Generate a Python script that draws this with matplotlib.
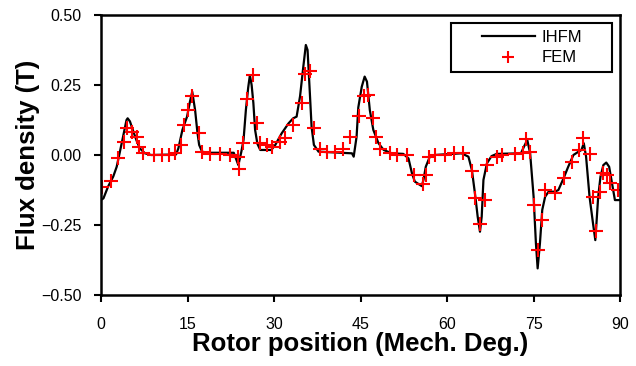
import matplotlib
matplotlib.use("Agg")
import matplotlib.pyplot as plt
from matplotlib.patches import Rectangle

# IHFM air-gap flux density (rotor position in mech. deg, B in T)
ihfm_deg = [0.0, 0.4, 1.2, 2.1, 2.7, 3.2, 3.8, 4.4, 4.6, 5.0, 5.5, 6.1, 6.7, 7.6,
            8.7, 13.0, 13.4, 14.1, 14.9, 15.4, 15.8, 16.3, 16.7, 17.0, 17.5,
            18.5, 23.0, 23.8, 24.3, 24.7, 25.1, 25.5, 25.8, 26.1, 26.4, 26.7,
            27.1, 27.6, 29.5, 30.2, 31.3, 32.5, 33.3, 33.9, 34.5, 35.0, 35.5,
            35.8, 36.2, 36.5, 36.9, 37.7, 43.5, 43.8, 44.3, 44.6, 45.2, 45.7,
            46.1, 46.6, 47.2, 48.1, 49.0, 50.4, 52.4, 53.3, 53.9, 54.4, 55.6,
            55.9, 56.3, 57.0, 57.8, 62.5, 63.7, 64.3, 64.9, 65.3, 65.7, 66.0,
            66.3, 66.9, 67.7, 68.6, 72.8, 73.2, 73.9, 74.4, 75.0, 75.4, 75.7,
            76.1, 76.5, 77.0, 77.6, 78.7, 79.3, 80.2, 81.0, 81.9, 82.8, 83.3,
            83.7, 84.1, 84.7, 85.3, 85.7, 85.9, 86.2, 86.6, 87.1, 87.6, 88.1,
            88.5, 89.1, 89.8]
ihfm_val = [-0.160, -0.155, -0.113, -0.077, -0.042, 0.006, 0.065, 0.125, 0.131,
            0.120, 0.089, 0.054, 0.024, 0.006, 0.000, 0.002, 0.024, 0.090,
            0.137, 0.190, 0.226, 0.160, 0.080, 0.036, 0.012, 0.008, 0.008,
            -0.036, 0.010, 0.054, 0.160, 0.240, 0.285, 0.250, 0.186, 0.090,
            0.040, 0.018, 0.018, 0.036, 0.077, 0.113, 0.131, 0.137, 0.210,
            0.304, 0.393, 0.375, 0.220, 0.100, 0.036, 0.012, 0.006, -0.006,
            0.065, 0.170, 0.244, 0.280, 0.262, 0.160, 0.090, 0.042, 0.018,
            0.006, 0.004, -0.012, -0.065, -0.095, -0.111, -0.089, -0.042,
            -0.006, 0.000, 0.006, -0.006, -0.054, -0.149, -0.220, -0.274,
            -0.220, -0.089, -0.030, -0.004, 0.004, 0.006, 0.024, 0.054, 0.006,
            -0.149, -0.315, -0.405, -0.315, -0.196, -0.149, -0.131, -0.131,
            -0.125, -0.083, -0.042, 0.000, 0.012, 0.018, 0.042, -0.006, -0.149,
            -0.244, -0.304, -0.244, -0.149, -0.077, -0.036, -0.027, -0.042,
            -0.089, -0.161, -0.161]

# FEM samples
fem_deg = [0.1, 1.7, 3.0, 3.9, 4.5, 5.3, 6.2, 6.5, 7.3, 9.1, 10.5, 11.7, 12.8,
           13.9, 14.3, 15.1, 15.8, 17.0, 17.5, 18.9, 20.6, 22.4, 23.8, 23.9,
           24.6, 25.3, 26.4, 27.0, 27.6, 28.7, 29.6, 31.0, 31.9, 33.3, 34.9,
           35.4, 36.3, 36.9, 37.9, 39.1, 40.6, 41.9, 43.2, 44.8, 45.6, 46.2,
           47.2, 47.7, 48.4, 50.1, 51.3, 53.0, 54.3, 55.8, 56.3, 56.8, 57.9,
           59.6, 61.2, 62.8, 64.3, 64.9, 65.7, 66.6, 67.0, 68.6, 69.5, 71.8,
           73.2, 73.7, 74.4, 75.1, 75.8, 76.5, 77.0, 78.7, 80.2, 81.6, 82.8,
           83.6, 84.7, 85.3, 85.8, 86.5, 87.1, 87.8, 88.3, 89.7]
fem_val = [-0.115, -0.093, -0.012, 0.048, 0.095, 0.083, 0.065, 0.030, 0.006,
           0.000, 0.000, 0.000, 0.006, 0.036, 0.107, 0.160, 0.210, 0.077,
           0.012, 0.004, 0.004, 0.000, -0.006, -0.051, 0.042, 0.200, 0.286,
           0.113, 0.042, 0.036, 0.030, 0.048, 0.060, 0.107, 0.185, 0.290,
           0.300, 0.095, 0.020, 0.012, 0.012, 0.020, 0.065, 0.139, 0.210,
           0.214, 0.131, 0.065, 0.020, 0.006, 0.000, 0.000, -0.071, -0.104,
           -0.071, -0.006, 0.000, 0.000, 0.006, 0.006, -0.056, -0.155, -0.248,
           -0.161, -0.036, -0.006, 0.000, 0.004, 0.006, 0.056, 0.012, -0.179,
           -0.339, -0.232, -0.125, -0.135, -0.083, -0.024, 0.018, 0.060, 0.004,
           -0.149, -0.270, -0.131, -0.063, -0.071, -0.101, -0.125]

x_ticks = [0, 15, 30, 45, 60, 75, 90]
y_ticks = [0.50, 0.25, 0.00, -0.25, -0.50]
y_tick_labels = ["0.50", "0.25", "0.00", "\u22120.25", "\u22120.50"]

tick_font = "Liberation Sans"

fig = plt.figure(figsize=(6.36, 3.66), dpi=100, facecolor="white")
ax = fig.add_axes([0.159, 0.194, 0.816, 0.765])

ax.plot(ihfm_deg, ihfm_val, color="black", linewidth=1.6, label="IHFM")
ax.plot(fem_deg, fem_val, linestyle="none", marker="+", color="red",
        markersize=10, markeredgewidth=1.5, label="FEM")

ax.set_xlim(0, 90)
ax.set_ylim(-0.5, 0.5)
ax.set_xticks(x_ticks)
ax.set_xticklabels([str(t) for t in x_ticks], family=tick_font, fontsize=11.5)
ax.set_yticks(y_ticks)
ax.set_yticklabels(y_tick_labels, family=tick_font, fontsize=11.5)
ax.tick_params(direction="out", length=5, width=1.5)
ax.tick_params(axis="x", pad=11)
ax.tick_params(axis="y", pad=9)
for s in ax.spines.values():
    s.set_linewidth(1.8)

ax.set_xlabel("Rotor position (Mech. Deg.)", family="Liberation Sans",
              fontweight="bold", fontsize=18.5, labelpad=0)
ax.set_ylabel("Flux density (T)", family="Liberation Sans",
              fontweight="bold", fontsize=18.5, labelpad=1)

# legend without frame, box drawn separately
ax.legend(loc="center", bbox_to_anchor=(0.83, 0.884), frameon=False,
          prop={"family": tick_font, "size": 12}, handlelength=3.2,
          handletextpad=0.4, labelspacing=0.35, markerscale=0.8,
          borderpad=0.0)
ax.add_patch(Rectangle((0.674, 0.796), 0.311, 0.175, transform=ax.transAxes,
                       fill=False, edgecolor="black", linewidth=1.5,
                       zorder=5))

fig.savefig("out.png", dpi=100, facecolor="white")
